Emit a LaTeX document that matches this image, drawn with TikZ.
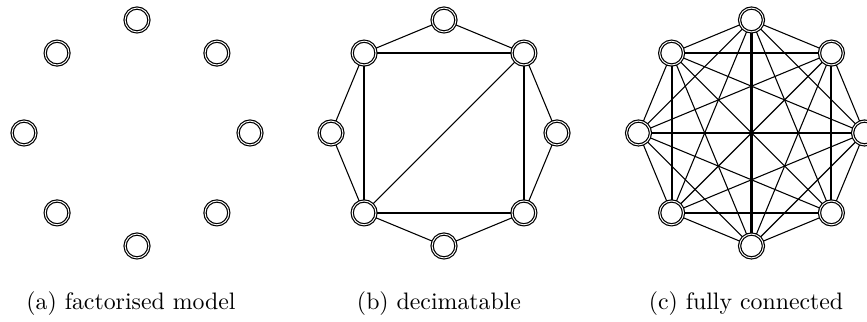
\documentclass[tikz,border=0pt]{standalone}
\usetikzlibrary{calc,backgrounds}
\tikzset{
  var/.style={circle,draw,double,line width=0.5pt,double distance=0.4pt,
    fill=white,inner sep=0pt,minimum size=10pt},
  link/.style={line width=0.45pt},
  tie/.style={line width=0.9pt},
  caption/.style={anchor=base,font=\normalsize},
}
\begin{document}
\begin{tikzpicture}[x=0.42pt,y=0.42pt]
  \useasboundingbox (0,0) rectangle (867,322);
  % eight variables on an octagon, once per panel
  \foreach \p/\cx in {a/137,b/444,c/751.5}{
    \foreach \ang [count=\i] in {90,45,0,-45,-90,-135,180,135}
      \node[var] (\p\i) at ($(\cx,189)+(\ang:113)$) {};
  }
  \begin{scope}[on background layer]
    % (b) ring, square and one diagonal
    \foreach \i [evaluate=\i as \j using {int(mod(\i,8)+1)}] in {1,...,8}
      \draw[link] (b\i) -- (b\j);
    \draw[tie] (b2) -- (b4) -- (b6) -- (b8) -- (b2);
    \draw[link] (b6) -- (b2);
    % (c) every pair
    \foreach \i in {1,...,7}{
      \pgfmathtruncatemacro\k{\i+1}
      \foreach \j in {\k,...,8}
        \draw[link] (c\i) -- (c\j);
    }
    \draw[tie] (c2) -- (c4) -- (c6) -- (c8) -- (c2);
    \draw[tie] (c1) -- (c5);
    \draw[tie] (c3) -- (c7);
  \end{scope}
  \node[caption] (capa) at (131,12) {(a) factorised model};
  \node[caption] (capb) at (439,12) {(b) decimatable};
  \node[caption] (capc) at (746,12) {(c) fully connected};
\end{tikzpicture}
\end{document}
